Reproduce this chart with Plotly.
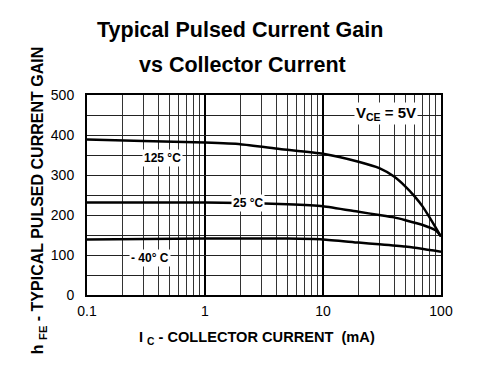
import plotly.graph_objects as go

# Data
ic_125 = [0.1, 0.3, 1, 2, 4.3, 10, 20, 30, 40, 50, 60, 70, 80, 90, 100]
hfe_125 = [389, 385, 381, 377, 365, 353, 333, 317, 296, 271, 246, 221, 194, 169, 146]

ic_25 = [0.1, 1, 2, 5, 10, 20, 30, 40, 50, 70, 90, 100]
hfe_25 = [231, 231, 230, 227, 222, 208, 200, 194, 187, 175, 162, 147]

ic_m40 = [0.1, 1, 5, 10, 20, 30, 50, 100]
hfe_m40 = [139, 141, 141, 139, 131, 127, 121, 108]

x_tickvals = [0.1, 1, 10, 100]
x_ticktext = ["0.1", "1", "10", "100"]
y_tickvals = [0, 100, 200, 300, 400, 500]

FONT = "Liberation Sans, Arial, sans-serif"

fig = go.Figure()
for xs, ys in [(ic_125, hfe_125), (ic_25, hfe_25), (ic_m40, hfe_m40)]:
    fig.add_trace(go.Scatter(x=xs, y=ys, mode="lines",
                             line=dict(color="black", width=2.5, shape="spline", smoothing=0.5),
                             showlegend=False, hoverinfo="skip"))

ann_font = dict(family=FONT, size=12, color="black")
annotations = [
    dict(x=-0.362, y=342, text="<b>125 °C</b>", font=ann_font),
    dict(x=0.367, y=230, text="<b>25 °C</b>", font=ann_font),
    dict(x=-0.464, y=92, text="<b>- 40° C</b>", font=ann_font),
    dict(x=1.536, y=455, text="<b>V<sub>CE</sub> = 5V</b>", font=dict(family=FONT, size=15, color="black")),
]
for a in annotations:
    a.update(xref="x", yref="y", showarrow=False, bgcolor="white", borderpad=1)

paper = [
    dict(x=0.433, y=1.325, text="<b>Typical Pulsed Current Gain</b>",
         font=dict(family=FONT, size=21.5, color="black")),
    dict(x=0.439, y=1.15, text="<b>vs Collector Current</b>",
         font=dict(family=FONT, size=21.5, color="black")),
    dict(x=0.481, y=-0.215, text="<b>I <sub>C</sub> - COLLECTOR CURRENT  (mA)</b>",
         font=dict(family=FONT, size=14.6, color="black")),
    dict(x=-0.138, y=0.47, text="<b>h <sub>FE</sub> - TYPICAL PULSED CURRENT GAIN</b>",
         textangle=-90, font=dict(family=FONT, size=16, color="black")),
]
for a in paper:
    a.update(xref="paper", yref="paper", showarrow=False, xanchor="center", yanchor="middle")

fig.update_layout(
    width=482, height=370,
    margin=dict(l=79, r=49, t=87, b=83, autoexpand=False),
    paper_bgcolor="white", plot_bgcolor="white",
    font=dict(family=FONT, size=14, color="black"),
    xaxis=dict(type="log", range=[-1, 2], tickvals=x_tickvals, ticktext=x_ticktext,
               showgrid=True, gridcolor="black", gridwidth=1.8,
               minor=dict(dtick="D1", showgrid=True, gridcolor="#333", gridwidth=1, ticks=""),
               showline=True, linecolor="black", linewidth=2, mirror=True,
               ticks="", ticklabelstandoff=2, automargin=False),
    yaxis=dict(range=[0, 500], tickvals=y_tickvals,
               showgrid=True, gridcolor="#222", gridwidth=1.2,
               minor=dict(dtick=50, showgrid=True, gridcolor="#222", gridwidth=1.2, ticks=""),
               showline=True, linecolor="black", linewidth=2, mirror=True,
               ticks="", ticklabelstandoff=8, zeroline=False, automargin=False),
    annotations=annotations + paper,
)

fig.write_html("out.html")
